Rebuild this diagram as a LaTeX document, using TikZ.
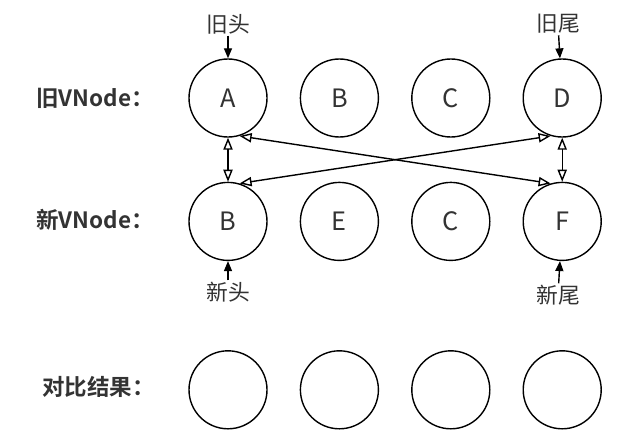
\documentclass[tikz,border=0pt]{standalone}
\usepackage{fontspec}
\setmainfont{Noto Sans CJK SC}
\newfontfamily\cjkbf{Noto Sans CJK SC Bold}
\definecolor{d00}{rgb}{0.00, 0.00, 0.00}
\definecolor{d01}{rgb}{0.20, 0.20, 0.20}
\definecolor{d05}{rgb}{1.00, 1.00, 1.00}
\usetikzlibrary{positioning}
\usetikzlibrary{arrows.meta}
\tikzstyle{Line} = [draw, d00, line width=.035cm,
    -{Triangle[length=2.5mm, width=2mm]}]
\tikzstyle{Dline} = [draw, d00, line width=.035cm,
    {Triangle[open, length=3mm, width=2.3mm]}-{Triangle[open, length=3mm, width=2.3mm]}]
\tikzstyle{circ} = [draw, circle, minimum size=19.5mm, d00,
    text=d01, line width=.035cm, font=\fontsize{18}{21}\selectfont]
\tikzstyle{lbl} = [anchor=west, text=d01,
    font=\cjkbf\fontsize{16}{19}\selectfont]
\tikzstyle{tag} = [text=d01, inner sep=1pt,
    font=\fontsize{15.5}{18}\selectfont]

\begin{document}
\begin{tikzpicture}[x=0.25mm, y=0.25mm, inner sep=0pt,
    node distance=8mm and 8mm]
     % ><>< =================== ><>< %
     % ><><     Place nodes     ><>< %
     % ><>< =================== ><>< %
     \useasboundingbox [fill=d05] (0,0) rectangle (619,438);
     % ><>< =================== ><>< %
     \node [circ] (old00) at (228,340) {A};
     \node [circ, right=of old00] (old01) {B};
     \node [circ, right=of old01] (old02) {C};
     \node [circ, right=of old02] (old03) {D};
     \node [circ, below=11mm of old00] (new00) {B};
     \node [circ, right=of new00] (new01) {E};
     \node [circ, right=of new01] (new02) {C};
     \node [circ, right=of new02] (new03) {F};
     \node [circ, below=22.25mm of new00] (res00) {};
     \node [circ, right=of res00] (res01) {};
     \node [circ, right=of res01] (res02) {};
     \node [circ, right=of res02] (res03) {};
     \node [lbl] (lab00) at (36,340) {旧VNode：};
     \node [lbl] (lab01) at (36,218) {新VNode：};
     \node [lbl] (lab02) at (42,51) {对比结果：};
     \node [tag] (tag00) at (228,414) {旧头};
     \node [tag] (tag01) at (558,414) {旧尾};
     \node [tag] (tag02) at (228,146) {新头};
     \node [tag] (tag03) at (558,143) {新尾};
     % ><>< =================== ><>< %
     % ><><     Draw lines.     ><>< %
     % ><>< =================== ><>< %
     \path [Line] (tag00) -- (old00);
     \path [Line] (tag01) -- (old03);
     \path [Line] (tag02) -- (new00);
     \path [Line] (tag03) -- (new03);
     \path [Dline] (old00) -- (new00);
     \path [Dline] (old03) -- (new03);
     \path [Dline] (old00.-73) -- (new03.107);
     \path [Dline] (old03.-107) -- (new00.73);
  \end{tikzpicture}
\end{document}
